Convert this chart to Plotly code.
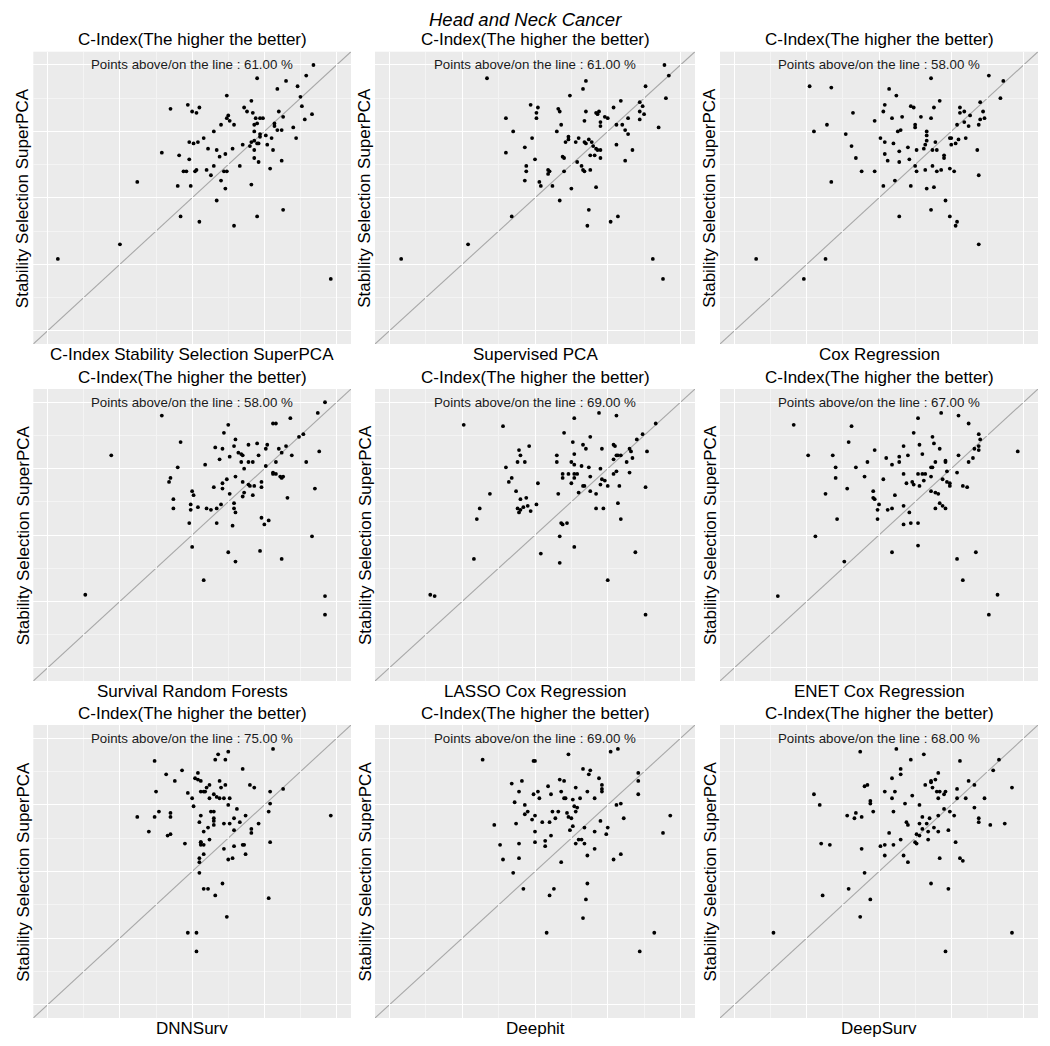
import plotly.graph_objects as go

# the page body keeps the browser's 8px margin, so the figure sits at (8, 8)
PAGE_W, PAGE_H, BODY = 1050, 1046, 8
W, H = PAGE_W - BODY, PAGE_H - BODY
LIM_LO, LIM_HI = 0.50, 0.70
PAD = 0.05 * (LIM_HI - LIM_LO)
AX_RANGE = [LIM_LO - PAD, LIM_HI + PAD]

methods = [
    "C-Index Stability Selection SuperPCA", "Supervised PCA", "Cox Regression",
    "Survival Random Forests", "LASSO Cox Regression", "ENET Cox Regression",
    "DNNSurv", "Deephit", "DeepSurv",
]
above_pct = [61.00, 61.00, 58.00, 58.00, 69.00, 67.00, 75.00, 69.00, 68.00]

# C-index of the compared method (x) and of Stability Selection SuperPCA (y)
cindex_ss_x = [.684, .645, .679, .665, .659, .673, .624, .641, .675, .676, .585, .597, .605, .600, .603, .636,
               .638, .642, .660, .683, .678, .625, .624, .626, .644, .647, .649, .663, .620, .629, .643, .645,
               .657, .657, .670, .659, .662, .615, .643, .647, .672, .647, .651, .655, .608, .598, .601, .604,
               .641, .645, .646, .643, .635, .640, .652, .628, .579, .611, .617, .643, .623, .619, .591, .598,
               .643, .646, .656, .662, .633, .654, .594, .596, .602, .603, .610, .615, .613, .622, .624, .590,
               .599, .620, .623, .641, .562, .617, .663, .592, .645, .605, .629, .550, .507, .696]
cindex_ss_y = [.700, .690, .692, .688, .682, .684, .677, .673, .676, .669, .667, .670, .668, .665, .664, .668,
               .665, .664, .665, .663, .659, .662, .660, .658, .660, .660, .660, .661, .655, .655, .655, .656,
               .656, .654, .653, .651, .651, .650, .650, .648, .645, .646, .647, .645, .645, .642, .641, .642,
               .642, .641, .641, .643, .640, .639, .640, .637, .634, .637, .636, .636, .633, .631, .632, .629,
               .630, .627, .636, .628, .624, .622, .620, .620, .620, .621, .621, .624, .617, .620, .620, .609,
               .609, .613, .607, .610, .612, .598, .591, .586, .586, .582, .579, .565, .554, .539]

spca_x = [.689, .692, .567, .635, .633, .676, .624, .690, .659, .672, .597, .602, .601, .601, .616, .617,
          .635, .642, .643, .644, .648, .650, .654, .664, .674, .675, .672, .580, .634, .645, .645, .656,
          .660, .618, .662, .664, .685, .585, .615, .598, .623, .623, .621, .630, .628, .634, .635, .637,
          .639, .640, .642, .643, .645, .656, .593, .580, .600, .638, .641, .645, .619, .620, .667, .662,
          .629, .632, .633, .634, .638, .594, .594, .609, .610, .609, .620, .593, .603, .604, .612, .625,
          .642, .617, .637, .584, .657, .652, .636, .554, .508, .681, .688, .672]
spca_y = [.700, .692, .690, .688, .682, .684, .677, .675, .673, .672, .670, .668, .664, .660, .667, .665,
          .665, .664, .663, .665, .661, .660, .668, .660, .669, .663, .659, .660, .658, .657, .654, .655,
          .655, .655, .651, .648, .653, .650, .650, .645, .646, .644, .642, .645, .642, .642, .641, .644,
          .642, .639, .637, .636, .636, .640, .638, .634, .629, .632, .632, .630, .631, .630, .636, .628,
          .627, .624, .621, .620, .621, .624, .620, .621, .620, .618, .620, .613, .612, .609, .609, .607,
          .608, .598, .591, .586, .586, .582, .579, .565, .554, .554, .539, .665]

cox_x = [.636, .676, .686, .552, .567, .607, .612, .642, .684, .604, .603, .622, .624, .638, .582, .597,
         .609, .616, .629, .636, .625, .625, .656, .656, .659, .663, .670, .672, .673, .670, .659, .654,
         .662, .669, .564, .555, .577, .613, .615, .633, .633, .633, .601, .604, .610, .620, .614, .604,
         .606, .614, .621, .581, .584, .588, .597, .626, .631, .632, .637, .640, .639, .649, .650, .650,
         .653, .655, .660, .645, .645, .643, .640, .637, .632, .625, .626, .649, .652, .668, .669, .567,
         .603, .611, .622, .633, .638, .646, .636, .614, .649, .653, .654, .669, .515, .563, .548]
cox_y = [.690, .692, .688, .684, .683, .682, .677, .673, .675, .670, .665, .669, .668, .668, .664, .658,
         .660, .661, .661, .660, .655, .653, .668, .664, .665, .662, .672, .665, .660, .659, .657, .655,
         .654, .655, .655, .650, .648, .650, .651, .650, .647, .643, .645, .642, .641, .638, .635, .633,
         .628, .627, .629, .639, .630, .620, .620, .636, .637, .640, .636, .636, .642, .645, .645, .640,
         .641, .644, .645, .632, .630, .621, .620, .624, .621, .624, .620, .622, .620, .636, .617, .612,
         .609, .613, .609, .607, .608, .598, .591, .586, .586, .579, .582, .565, .554, .554, .539]

rsf_x = [.692, .687, .579, .668, .625, .656, .658, .622, .674, .677, .592, .630, .639, .645, .652, .651,
         .660, .665, .688, .616, .621, .629, .632, .634, .635, .544, .619, .626, .634, .639, .642, .646,
         .658, .662, .669, .679, .590, .609, .636, .651, .656, .656, .658, .661, .663, .662, .585, .584,
         .624, .630, .635, .639, .640, .643, .648, .648, .615, .621, .621, .626, .635, .636, .642, .666,
         .685, .600, .601, .587, .587, .599, .599, .604, .610, .613, .617, .620, .629, .629, .630, .598,
         .617, .628, .648, .650, .653, .683, .600, .625, .647, .630, .662, .608, .526, .692, .692]
rsf_y = [.700, .692, .690, .688, .683, .684, .684, .677, .674, .676, .670, .672, .668, .669, .668, .665,
         .665, .667, .663, .666, .665, .667, .662, .661, .660, .660, .657, .659, .655, .655, .655, .660,
         .655, .662, .660, .655, .651, .653, .650, .652, .647, .646, .646, .644, .644, .643, .643, .640,
         .642, .644, .640, .638, .637, .637, .640, .636, .636, .639, .635, .631, .629, .632, .630, .628,
         .635, .633, .630, .627, .620, .623, .619, .621, .620, .619, .620, .623, .624, .620, .617, .609,
         .609, .607, .613, .608, .611, .599, .591, .587, .588, .580, .582, .566, .555, .554, .540]

lasso_x = [.644, .656, .627, .551, .578, .683, .620, .638, .674, .670, .596, .589, .590, .588, .593, .580,
           .626, .633, .635, .646, .654, .655, .665, .666, .677, .615, .615, .627, .656, .657, .659, .667,
           .654, .663, .625, .627, .632, .637, .645, .656, .665, .654, .619, .619, .623, .627, .629, .627,
           .638, .646, .648, .625, .633, .634, .645, .650, .658, .676, .584, .582, .602, .587, .569, .630,
           .638, .642, .616, .590, .594, .562, .588, .590, .592, .595, .597, .601, .589, .642, .647, .657,
           .659, .560, .618, .619, .622, .617, .627, .604, .669, .558, .617, .650, .528, .531, .676]
lasso_y = [.692, .690, .688, .683, .682, .684, .677, .674, .676, .672, .667, .664, .660, .655, .655, .651,
           .670, .668, .665, .665, .668, .667, .665, .663, .663, .660, .655, .661, .660, .660, .660, .658,
           .657, .655, .655, .653, .652, .651, .650, .648, .647, .646, .646, .643, .646, .646, .646, .643,
           .644, .642, .641, .639, .637, .637, .638, .637, .637, .636, .643, .640, .639, .633, .631, .632,
           .633, .631, .631, .627, .628, .620, .620, .619, .621, .622, .618, .623, .617, .620, .620, .624,
           .612, .612, .609, .608, .609, .599, .591, .586, .587, .582, .579, .566, .555, .554, .540]

enet_x = [.643, .655, .627, .541, .581, .662, .624, .637, .669, .670, .579, .628, .638, .642, .617, .597,
          .669, .669, .666, .696, .551, .568, .614, .620, .605, .630, .655, .665, .614, .609, .592, .570,
          .584, .636, .637, .639, .646, .646, .662, .647, .654, .570, .590, .603, .617, .627, .630, .632,
          .636, .631, .644, .647, .649, .649, .658, .661, .619, .623, .624, .628, .578, .563, .596, .596,
          .597, .611, .636, .639, .641, .600, .599, .606, .609, .617, .621, .639, .642, .644, .646, .599,
          .571, .617, .622, .627, .556, .627, .609, .667, .576, .654, .658, .530, .682, .676]
enet_y = [.692, .690, .688, .683, .682, .684, .677, .674, .676, .672, .670, .668, .669, .665, .667, .664,
          .667, .664, .665, .663, .660, .660, .659, .660, .658, .661, .660, .658, .655, .653, .655, .651,
          .651, .651, .651, .655, .656, .655, .655, .648, .647, .643, .644, .642, .646, .646, .646, .646,
          .644, .641, .642, .640, .639, .637, .637, .636, .639, .640, .638, .637, .635, .631, .633, .628,
          .627, .630, .633, .632, .631, .623, .619, .619, .620, .622, .617, .620, .624, .622, .620, .612,
          .612, .608, .609, .609, .599, .592, .587, .587, .580, .582, .566, .554, .555, .540]

dnnsurv_x = [.656, .625, .618, .616, .623, .574, .635, .593, .582, .604, .602, .604, .588, .619, .606, .575,
             .606, .608, .610, .612, .620, .623, .640, .643, .654, .663, .597, .600, .609, .612, .615, .617,
             .619, .622, .626, .601, .654, .625, .631, .653, .613, .615, .562, .574, .577, .585, .585, .606,
             .615, .615, .605, .615, .622, .626, .629, .633, .637, .646, .641, .641, .629, .611, .608, .570,
             .583, .585, .612, .606, .606, .608, .606, .595, .622, .629, .635, .636, .654, .608, .605, .605,
             .625, .628, .637, .605, .621, .608, .611, .616, .653, .624, .597, .603, .603, .696]
dnnsurv_y = [.692, .690, .688, .684, .684, .683, .677, .676, .673, .674, .670, .669, .668, .668, .668, .660,
             .660, .660, .663, .665, .663, .665, .665, .663, .660, .662, .659, .655, .660, .655, .658, .656,
             .655, .655, .655, .649, .651, .650, .647, .645, .645, .645, .641, .641, .645, .641, .644, .642,
             .640, .638, .637, .635, .636, .636, .640, .637, .642, .636, .632, .629, .631, .633, .630, .630,
             .627, .628, .624, .622, .620, .620, .622, .621, .617, .619, .620, .620, .622, .613, .610, .607,
             .609, .610, .613, .599, .591, .587, .587, .582, .580, .566, .554, .554, .540, .642]

deephit_x = [.657, .652, .623, .564, .599, .600, .633, .638, .637, .671, .671, .671, .591, .617, .620, .644,
             .584, .609, .628, .646, .646, .646, .589, .602, .599, .603, .611, .618, .636, .620, .621, .626,
             .631, .641, .586, .593, .627, .629, .656, .659, .595, .593, .598, .600, .612, .616, .614, .622,
             .623, .625, .628, .587, .572, .605, .610, .626, .624, .634, .645, .650, .649, .641, .661, .693,
             .688, .600, .611, .576, .589, .600, .607, .607, .628, .630, .632, .634, .641, .636, .578, .589,
             .618, .654, .659, .585, .636, .592, .613, .610, .635, .633, .608, .682, .672]
deephit_y = [.692, .690, .688, .684, .683, .683, .677, .676, .673, .674, .668, .658, .668, .669, .668, .670,
             .666, .664, .663, .665, .662, .660, .660, .660, .658, .655, .658, .660, .660, .655, .655, .654,
             .655, .655, .652, .650, .649, .648, .650, .651, .645, .643, .639, .642, .645, .645, .640, .644,
             .641, .640, .645, .636, .635, .637, .637, .634, .631, .633, .638, .633, .628, .630, .640, .642,
             .629, .630, .627, .620, .621, .622, .623, .619, .621, .624, .624, .621, .617, .612, .609, .610,
             .607, .609, .613, .599, .591, .587, .587, .582, .579, .565, .554, .554, .540]

deepsurv_x = [.612, .587, .631, .622, .656, .683, .615, .679, .641, .615, .609, .636, .636, .639, .662, .632,
              .637, .640, .642, .646, .645, .654, .666, .692, .590, .592, .604, .611, .555, .623, .609, .641,
              .654, .660, .673, .594, .594, .559, .618, .628, .645, .649, .666, .578, .584, .583, .588, .596,
              .610, .630, .635, .641, .652, .669, .669, .677, .687, .619, .620, .628, .630, .633, .634, .638,
              .641, .648, .607, .626, .628, .634, .625, .626, .615, .610, .601, .604, .604, .560, .566, .588,
              .617, .620, .642, .653, .656, .658, .590, .636, .648, .579, .561, .594, .587, .527, .692, .646]
deepsurv_y = [.692, .690, .688, .684, .683, .684, .677, .676, .674, .673, .670, .668, .667, .669, .668, .665,
              .663, .660, .660, .660, .658, .662, .665, .663, .664, .665, .660, .660, .658, .657, .655, .655,
              .655, .655, .655, .653, .651, .650, .651, .650, .647, .645, .648, .642, .644, .640, .641, .645,
              .645, .641, .640, .642, .642, .640, .637, .635, .636, .637, .635, .636, .632, .636, .630, .633,
              .630, .631, .629, .628, .627, .624, .622, .621, .624, .620, .619, .620, .612, .621, .620, .617,
              .612, .607, .610, .622, .610, .608, .599, .591, .587, .587, .582, .579, .566, .554, .554, .540]

series_x = [cindex_ss_x, spca_x, cox_x, rsf_x, lasso_x, enet_x, dnnsurv_x, deephit_x, deepsurv_x]
series_y = [cindex_ss_y, spca_y, cox_y, rsf_y, lasso_y, enet_y, dnnsurv_y, deephit_y, deepsurv_y]

# plot areas in page pixels: (left, right) per column, (top, bottom) per row
col_px = [(33.3, 351.0), (375.0, 695.0), (720.0, 1038.0)]
row_px = [(51.7, 344.0), (389.0, 681.0), (725.0, 1018.0)]

FONT = "Liberation Sans, Arial, sans-serif"


def fx(p):
    return (p - BODY) / W


def fy(p):
    return 1 - (p - BODY) / H


def label(text, x, y, size=17, angle=0, italic=False):
    return dict(text="<i>%s</i>" % text if italic else text, x=fx(x), y=fy(y),
                xref="paper", yref="paper", xanchor="center", yanchor="middle",
                showarrow=False, textangle=angle,
                font=dict(size=size, color="black", family=FONT))


fig = go.Figure()
annotations = [label("Head and Neck Cancer", 525, 20, size=18.5, italic=True)]
shapes = []
layout = {}

for i in range(9):
    n = i + 1
    r, c = divmod(i, 3)
    left, right = col_px[c]
    top, bottom = row_px[r]
    xa, ya = f"x{n}", f"y{n}"

    axis_style = dict(range=AX_RANGE, showticklabels=False, ticks="", zeroline=False,
                      showgrid=True, gridcolor="white", gridwidth=1.1,
                      tick0=LIM_LO, dtick=0.05, showline=False, fixedrange=True,
                      minor=dict(showgrid=True, gridcolor="#F4F4F4", gridwidth=0.6, dtick=0.025, tick0=LIM_LO))
    layout[f"xaxis{n}"] = dict(axis_style, domain=[fx(left), fx(right)], anchor=ya)
    layout[f"yaxis{n}"] = dict(axis_style, domain=[fy(bottom), fy(top)], anchor=xa)

    shapes.append(dict(type="line", xref=xa, yref=ya, x0=AX_RANGE[0], y0=AX_RANGE[0],
                       x1=AX_RANGE[1], y1=AX_RANGE[1], line=dict(color="#A8A8A8", width=1.1), layer="below"))

    fig.add_trace(go.Scatter(x=series_x[i], y=series_y[i], mode="markers", xaxis=xa, yaxis=ya,
                             marker=dict(color="black", size=3.8), showlegend=False))

    cx = (left + right) / 2
    cy = (top + bottom) / 2
    annotations.append(label("C-Index(The higher the better)", cx, top - 12))
    annotations.append(label(methods[i], cx, bottom + 10.5))
    annotations.append(label("Stability Selection SuperPCA", left - 10, cy, angle=-90))
    annotations.append(dict(text="Points above/on the line : %.2f %%" % above_pct[i],
                            x=(LIM_LO + LIM_HI) / 2, y=LIM_HI, xref=xa, yref=ya,
                            xanchor="center", yanchor="middle", showarrow=False,
                            font=dict(size=13.3, color="#1A1A1A", family=FONT)))

fig.update_layout(width=W, height=H, margin=dict(l=0, r=0, t=0, b=0),
                  paper_bgcolor="white", plot_bgcolor="#EBEBEB",
                  annotations=annotations, shapes=shapes, **layout)

fig.write_html("out.html")
